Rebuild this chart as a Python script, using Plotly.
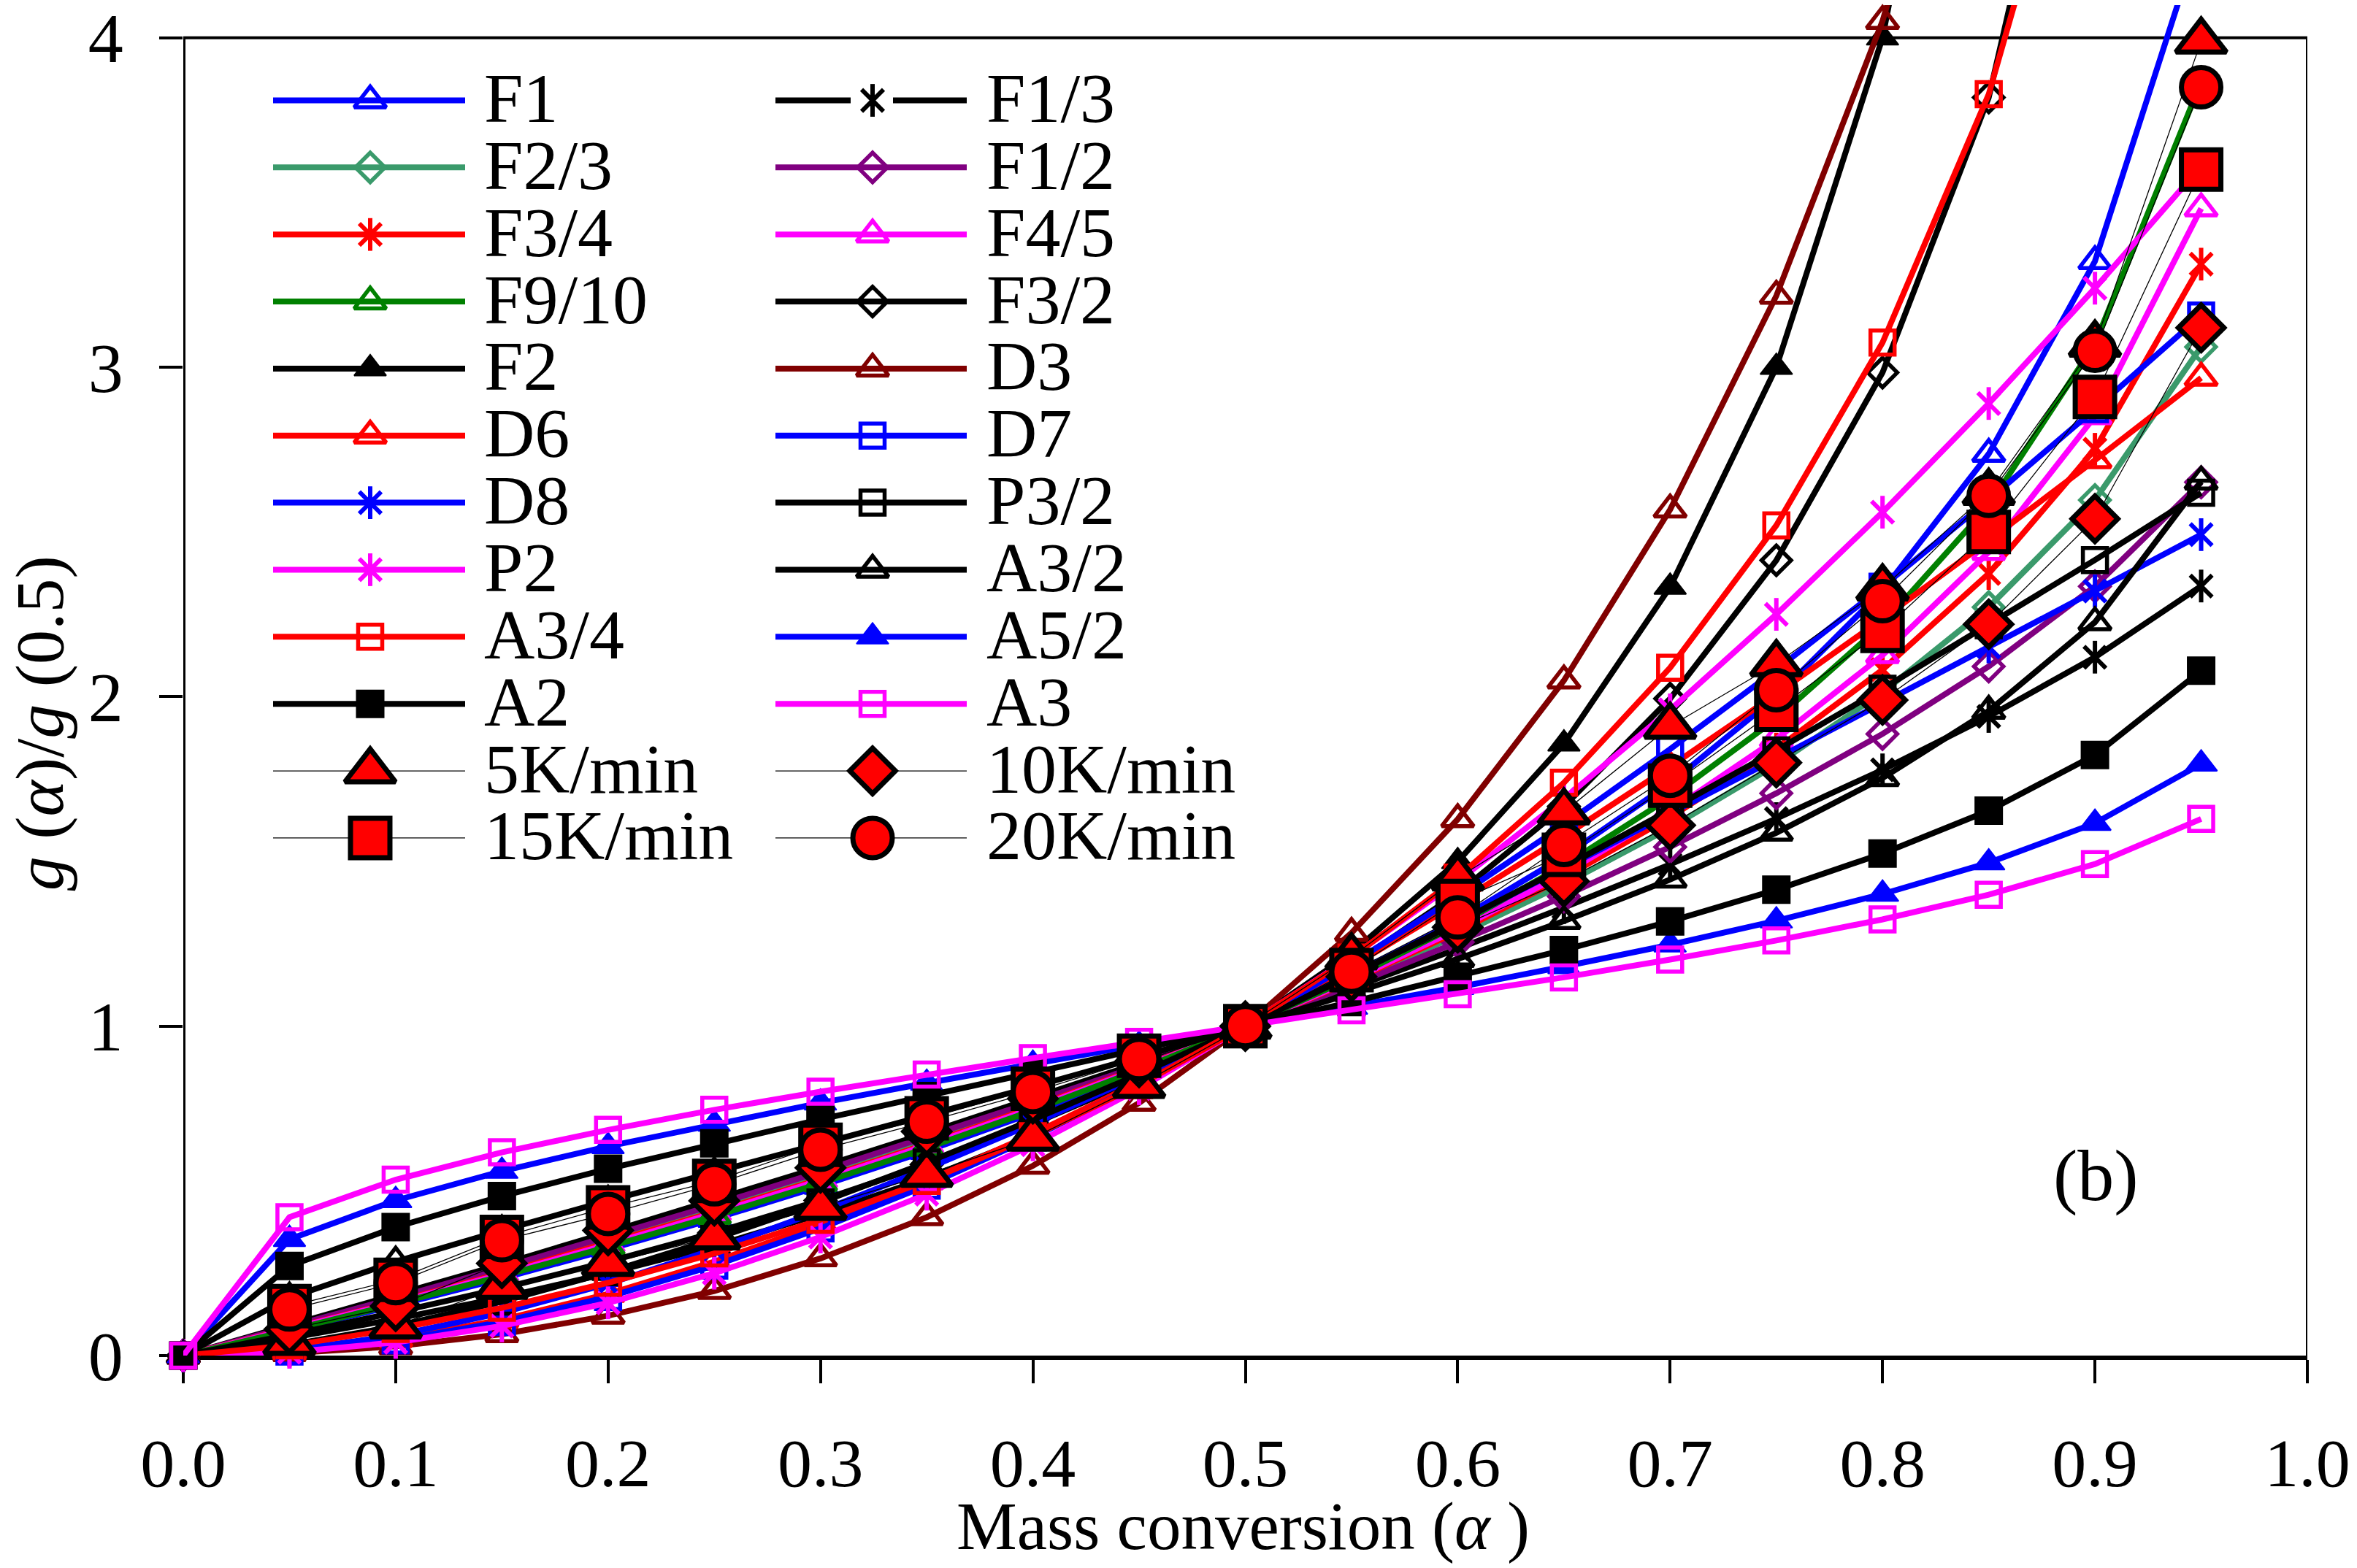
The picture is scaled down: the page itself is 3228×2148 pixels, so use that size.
import plotly.graph_objects as go

# ---------------- data ----------------
alpha = [0.0, 0.05, 0.1, 0.15, 0.2, 0.25, 0.3, 0.35, 0.4, 0.45,
         0.5, 0.55, 0.6, 0.65, 0.7, 0.75, 0.8, 0.85, 0.9, 0.95]

F1 = [0, 0.074, 0.152, 0.234, 0.322, 0.415, 0.515, 0.621, 0.737, 0.862, 1.0, 1.152, 1.322, 1.515, 1.737, 2.0, 2.322, 2.737, 3.322, 4.322]
F1_3 = [0, 0.091, 0.183, 0.277, 0.374, 0.472, 0.572, 0.675, 0.780, 0.888, 1.0, 1.115, 1.235, 1.360, 1.491, 1.630, 1.778, 1.940, 2.120, 2.336]
F2_3 = [0, 0.082, 0.167, 0.256, 0.347, 0.443, 0.543, 0.648, 0.759, 0.876, 1.0, 1.133, 1.276, 1.431, 1.602, 1.794, 2.013, 2.272, 2.597, 3.062]
F1_2 = [0, 0.086, 0.175, 0.266, 0.360, 0.457, 0.558, 0.662, 0.770, 0.882, 1.0, 1.124, 1.255, 1.394, 1.544, 1.707, 1.887, 2.092, 2.335, 2.651]
F3_4 = [0, 0.080, 0.163, 0.250, 0.341, 0.436, 0.536, 0.642, 0.754, 0.873, 1.0, 1.137, 1.287, 1.451, 1.634, 1.841, 2.082, 2.374, 2.751, 3.313]
F4_5 = [0, 0.079, 0.161, 0.247, 0.337, 0.432, 0.532, 0.638, 0.750, 0.871, 1.0, 1.140, 1.294, 1.463, 1.653, 1.871, 2.126, 2.439, 2.851, 3.482]
F9_10 = [0, 0.076, 0.157, 0.241, 0.330, 0.423, 0.523, 0.630, 0.744, 0.867, 1.0, 1.146, 1.307, 1.488, 1.694, 1.933, 2.220, 2.580, 3.071, 3.866]
F3_2 = [0, 0.063, 0.131, 0.204, 0.285, 0.373, 0.471, 0.580, 0.703, 0.841, 1.0, 1.185, 1.403, 1.667, 1.994, 2.414, 2.984, 3.819, 5.220, 8.382]
F2 = [0, 0.053, 0.111, 0.176, 0.250, 0.333, 0.429, 0.538, 0.667, 0.818, 1.0, 1.222, 1.500, 1.857, 2.333, 3.000, 4.000, 5.667, 9.000, 19.000]
D3 = [0, 0.007, 0.028, 0.065, 0.121, 0.196, 0.295, 0.420, 0.576, 0.767, 1.0, 1.283, 1.628, 2.049, 2.568, 3.217, 4.051, 5.161, 6.747, 9.373]
D6 = [0, 0.013, 0.050, 0.109, 0.187, 0.285, 0.399, 0.529, 0.673, 0.830, 1.0, 1.181, 1.374, 1.576, 1.788, 2.008, 2.237, 2.474, 2.718, 2.968]
D7 = [0, 0.012, 0.046, 0.102, 0.178, 0.273, 0.386, 0.516, 0.662, 0.824, 1.0, 1.190, 1.394, 1.611, 1.841, 2.082, 2.334, 2.598, 2.873, 3.157]
D8 = [0, 0.016, 0.061, 0.130, 0.218, 0.322, 0.439, 0.567, 0.704, 0.849, 1.0, 1.156, 1.316, 1.479, 1.644, 1.812, 1.981, 2.151, 2.321, 2.492]
P3_2 = [0, 0.032, 0.089, 0.164, 0.253, 0.354, 0.465, 0.586, 0.716, 0.854, 1.0, 1.154, 1.315, 1.482, 1.657, 1.837, 2.024, 2.217, 2.415, 2.619]
P2 = [0, 0.010, 0.040, 0.090, 0.160, 0.250, 0.360, 0.490, 0.640, 0.810, 1.0, 1.210, 1.440, 1.690, 1.960, 2.250, 2.560, 2.890, 3.240, 3.610]
A3_2 = [0, 0.176, 0.285, 0.380, 0.470, 0.556, 0.642, 0.728, 0.816, 0.906, 1.0, 1.099, 1.204, 1.319, 1.445, 1.587, 1.753, 1.957, 2.226, 2.653]
A3_4 = [0, 0.031, 0.081, 0.145, 0.221, 0.310, 0.412, 0.530, 0.666, 0.821, 1.0, 1.208, 1.451, 1.739, 2.088, 2.520, 3.075, 3.829, 4.957, 7.040]
A5_2 = [0, 0.353, 0.471, 0.560, 0.635, 0.703, 0.767, 0.827, 0.885, 0.943, 1.0, 1.058, 1.118, 1.181, 1.247, 1.320, 1.401, 1.496, 1.616, 1.796]
A2 = [0, 0.272, 0.390, 0.484, 0.567, 0.644, 0.717, 0.788, 0.858, 0.929, 1.0, 1.073, 1.150, 1.231, 1.318, 1.414, 1.524, 1.654, 1.823, 2.079]
A3 = [0, 0.420, 0.534, 0.617, 0.685, 0.746, 0.801, 0.853, 0.903, 0.952, 1.0, 1.048, 1.097, 1.148, 1.202, 1.260, 1.324, 1.399, 1.492, 1.629]

alpha_exp = [0.05, 0.1, 0.15, 0.2, 0.25, 0.3, 0.35, 0.4, 0.45, 0.5,
             0.55, 0.6, 0.65, 0.7, 0.75, 0.8, 0.85, 0.9, 0.95]
K5 = [0.04, 0.09, 0.21, 0.28, 0.36, 0.45, 0.55, 0.66, 0.82, 1.0, 1.21, 1.45, 1.65, 1.91, 2.10, 2.33, 2.62, 3.07, 3.99]
K10 = [0.08, 0.15, 0.28, 0.38, 0.47, 0.57, 0.68, 0.78, 0.89, 1.0, 1.15, 1.30, 1.44, 1.61, 1.80, 1.99, 2.22, 2.54, 3.12]
K15 = [0.15, 0.23, 0.36, 0.45, 0.53, 0.64, 0.72, 0.81, 0.91, 1.0, 1.17, 1.38, 1.52, 1.73, 1.96, 2.20, 2.50, 2.91, 3.60]
K20 = [0.14, 0.22, 0.35, 0.43, 0.52, 0.625, 0.71, 0.80, 0.90, 1.0, 1.165, 1.33, 1.55, 1.76, 2.02, 2.29, 2.61, 3.05, 3.85]

model_names = ["F1", "F1/3", "F2/3", "F1/2", "F3/4", "F4/5", "F9/10", "F3/2", "F2", "D3",
               "D6", "D7", "D8", "P3/2", "P2", "A3/2", "A3/4", "A5/2", "A2", "A3"]
model_values = [F1, F1_3, F2_3, F1_2, F3_4, F4_5, F9_10, F3_2, F2, D3,
                D6, D7, D8, P3_2, P2, A3_2, A3_4, A5_2, A2, A3]
exp_names = ["5K/min", "10K/min", "15K/min", "20K/min"]
exp_values = [K5, K10, K15, K20]

x_ticks = [0.0, 0.1, 0.2, 0.3, 0.4, 0.5, 0.6, 0.7, 0.8, 0.9, 1.0]
x_tick_labels = ["0.0", "0.1", "0.2", "0.3", "0.4", "0.5", "0.6", "0.7", "0.8", "0.9", "1.0"]
y_ticks = [0, 1, 2, 3, 4]
y_tick_labels = ["0", "1", "2", "3", "4"]

legend_left = ["F1", "F2/3", "F3/4", "F9/10", "F2", "D6", "D8", "P2", "A3/4", "A2", "5K/min", "15K/min"]
legend_right = ["F1/3", "F1/2", "F4/5", "F3/2", "D3", "D7", "P3/2", "A3/2", "A5/2", "A3", "10K/min", "20K/min"]

# ---------------- styles ----------------
BLUE = "#0000FF"; BLACK = "#000000"; TEAL = "#3A9A6B"; PURPLE = "#800080"
RED = "#FF0000"; MAGENTA = "#FF00FF"; GREEN = "#008000"; MAROON = "#800000"

model_style = {
    "F1": (BLUE, "tri_open"), "F1/3": (BLACK, "ast"), "F2/3": (TEAL, "dia_open"),
    "F1/2": (PURPLE, "dia_open"), "F3/4": (RED, "ast"), "F4/5": (MAGENTA, "tri_open"),
    "F9/10": (GREEN, "tri_open"), "F3/2": (BLACK, "dia_open"), "F2": (BLACK, "tri_fill"),
    "D3": (MAROON, "tri_open"), "D6": (RED, "tri_open"), "D7": (BLUE, "sq_open"),
    "D8": (BLUE, "ast"), "P3/2": (BLACK, "sq_open"), "P2": (MAGENTA, "ast"),
    "A3/2": (BLACK, "tri_open"), "A3/4": (RED, "sq_open"), "A5/2": (BLUE, "tri_fill"),
    "A2": (BLACK, "sq_fill"), "A3": (MAGENTA, "sq_open"),
}
exp_style = {"5K/min": ("triangle-up", 60), "10K/min": ("diamond", 48),
             "15K/min": ("square", 54), "20K/min": ("circle", 54)}

MODEL_LW = 8
EXP_LW = 1.3


def marker_specs(color, kind):
    if kind == "tri_open":
        return [dict(symbol="triangle-up-open", size=38, color=color, line=dict(color=color, width=5.5))]
    if kind == "tri_fill":
        return [dict(symbol="triangle-up", size=38, color=color, line=dict(color=color, width=2))]
    if kind == "dia_open":
        return [dict(symbol="diamond-open", size=31, color=color, line=dict(color=color, width=5.5))]
    if kind == "sq_open":
        return [dict(symbol="square-open", size=33, color=color, line=dict(color=color, width=5.5))]
    if kind == "sq_fill":
        return [dict(symbol="square", size=37, color=color, line=dict(color=color, width=2))]
    # six-armed asterisk: diagonal cross + vertical bar
    return [dict(symbol="x-thin-open", size=30, color=color, line=dict(color=color, width=6)),
            dict(symbol="line-ns-open", size=32, color=color, line=dict(color=color, width=6))]


def exp_marker(name):
    sym, size = exp_style[name]
    return dict(symbol=sym, size=size, color=RED, line=dict(color=BLACK, width=7))


fig = go.Figure()

# model curves
for name, vals in zip(model_names, model_values):
    color, kind = model_style[name]
    specs = marker_specs(color, kind)
    fig.add_trace(go.Scatter(x=alpha, y=vals, mode="lines+markers", name=name,
                             line=dict(color=color, width=MODEL_LW), marker=specs[0],
                             cliponaxis=False, showlegend=False, hoverinfo="skip"))
    for extra in specs[1:]:
        fig.add_trace(go.Scatter(x=alpha, y=vals, mode="markers", name=name,
                                 marker=extra, cliponaxis=False, showlegend=False,
                                 hoverinfo="skip"))

# experimental data
for name, vals in zip(exp_names, exp_values):
    fig.add_trace(go.Scatter(x=alpha_exp, y=vals, mode="lines+markers", name=name,
                             line=dict(color=BLACK, width=EXP_LW), marker=exp_marker(name),
                             cliponaxis=False, showlegend=False, hoverinfo="skip"))

# ---------------- custom legend (long keys like the original) ----------------
W, H = 3228, 2148
PL, PR, PT, PB = 251, 3160, 0, 1857          # plot area in pixels
ROW0, DY = 131, 92.2
cols = [dict(x0=374, x1=637, xm=507, xt=661, names=legend_left),
        dict(x0=1062, x1=1324, xm=1195, xt=1349, names=legend_right)]

annotations = []
for col in cols:
    for i, name in enumerate(col["names"]):
        yr = ROW0 + DY * i
        if name in model_style:
            color, kind = model_style[name]
            lw = MODEL_LW
            specs = marker_specs(color, kind)
        else:
            color, lw = BLACK, EXP_LW
            specs = [exp_marker(name)]
        if name == "F1/3":
            lx = [col["x0"], col["xm"] - 30, None, col["xm"] + 28, col["x1"]]
            ly = [yr, yr, None, yr, yr]
        else:
            lx = [col["x0"], col["x1"]]
            ly = [yr, yr]
        fig.add_trace(go.Scatter(x=lx, y=ly, mode="lines", line=dict(color=color, width=lw),
                                 xaxis="x2", yaxis="y2", showlegend=False, hoverinfo="skip"))
        for m in specs:
            fig.add_trace(go.Scatter(x=[col["xm"]], y=[yr], mode="markers", marker=m,
                                     xaxis="x2", yaxis="y2", cliponaxis=False,
                                     showlegend=False, hoverinfo="skip"))
        annotations.append(dict(x=col["xt"], y=yr - 3, xref="x2", yref="y2", text=name,
                                showarrow=False, xanchor="left", yanchor="middle",
                                font=dict(size=96, color="black")))


def px_x(px):
    return (px - PL) / (PR - PL)


def px_y(py):
    return (PB - py) / (PB - PT)


annotations.append(dict(x=px_x(1702), y=px_y(2091), xref="paper", yref="paper",
                        text="Mass conversion (<i>α</i> )", showarrow=False,
                        xanchor="center", yanchor="middle", font=dict(size=93, color="black")))
annotations.append(dict(x=px_x(54), y=px_y(988), xref="paper", yref="paper",
                        text="<i>g</i> (<i>α</i>)/<i>g</i> (0.5)", showarrow=False, textangle=-90,
                        xanchor="center", yanchor="middle", font=dict(size=94, color="black")))
annotations.append(dict(x=px_x(2870), y=px_y(1610), xref="paper", yref="paper",
                        text="(b)", showarrow=False, xanchor="center", yanchor="middle",
                        font=dict(size=100, color="black")))

Y_MAX_FRAME = 4
Y_TOP = Y_MAX_FRAME * (PB - PT) / (PB - 45)   # axis reaches the top of the page

shapes = [
    dict(type="line", xref="x", yref="y", x0=0, x1=1, y0=Y_MAX_FRAME, y1=Y_MAX_FRAME,
         line=dict(color="black", width=4), layer="below"),
    dict(type="line", xref="x", yref="y", x0=1, x1=1, y0=0, y1=Y_MAX_FRAME,
         line=dict(color="black", width=4), layer="below"),
    dict(type="line", xref="x", yref="y", x0=0, x1=0, y0=0, y1=Y_MAX_FRAME,
         line=dict(color="black", width=6), layer="below"),
]

fig.update_layout(
    width=W, height=H,
    margin=dict(l=PL, r=W - PR, t=PT, b=H - PB, pad=0),
    paper_bgcolor="white", plot_bgcolor="white",
    showlegend=False, hovermode=False,
    font=dict(family="Liberation Serif, Times New Roman, serif", color="black", size=96),
    xaxis=dict(range=[0, 1], tickmode="array", tickvals=x_ticks, ticktext=x_tick_labels,
               ticks="outside", ticklen=32, tickwidth=4, tickcolor="black",
               showline=True, linewidth=6, linecolor="black", showgrid=False,
               zeroline=False, layer="below traces", ticklabelstandoff=28,
               ticklabeloverflow="allow", tickfont=dict(size=94)),
    yaxis=dict(range=[0, Y_TOP], tickmode="array", tickvals=y_ticks, ticktext=y_tick_labels,
               ticks="outside", ticklen=32, tickwidth=4, tickcolor="black",
               showline=False, showgrid=False, zeroline=False, layer="below traces",
               ticklabelstandoff=30, ticklabeloverflow="allow", tickfont=dict(size=96)),
    xaxis2=dict(range=[PL, PR], overlaying="x", anchor="y2", visible=False),
    yaxis2=dict(range=[PB, PT], overlaying="y", anchor="x2", visible=False),
    annotations=annotations,
    shapes=shapes,
)

fig.write_html("out.html", config={"displayModeBar": False})
